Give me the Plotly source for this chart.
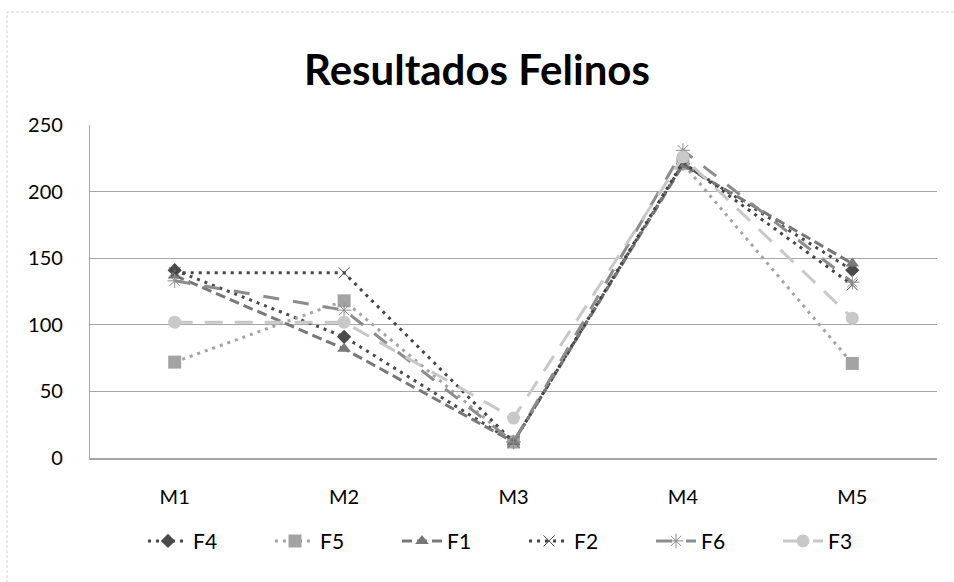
import plotly.graph_objects as go

categories = ["M1", "M2", "M3", "M4", "M5"]
series_names = ["F4", "F5", "F1", "F2", "F6", "F3"]
F4 = [141, 91, 12, 221, 141]
F5 = [72, 118, 12, 221, 71]
F1 = [137, 82, 12, 220, 146]
F2 = [139, 139, 12, 222, 130]
F6 = [133, 111, 12, 231, 132]
F3 = [102, 102, 30, 226, 105]
y_ticks = [0, 50, 100, 150, 200, 250]

values = [F4, F5, F1, F2, F6, F3]
styles = [
    dict(color="#4a4a4a", dash="3px,5px", symbol="diamond", msize=11, mline=0),
    dict(color="#a3a3a3", dash="3px,5px", symbol="square", msize=13, mline=0),
    dict(color="#787878", dash="10px,5px", symbol="triangle-up", msize=12, mline=0),
    dict(color="#454545", dash="3px,5px", symbol="x-thin-open", msize=11, mline=1),
    dict(color="#8c8c8c", dash="16px,14px", symbol="asterisk-open", msize=12, mline=1),
    dict(color="#c8c8c8", dash="18px,12px", symbol="circle", msize=13, mline=0),
]

FONT = "Lato, Open Sans, sans-serif"
fig = go.Figure()
for name, vals, st in zip(series_names, values, styles):
    marker = dict(symbol=st["symbol"], size=st["msize"], color=st["color"])
    if st["mline"]:
        marker["line"] = dict(color=st["color"], width=1)
    fig.add_trace(go.Scatter(
        x=categories, y=vals, name=name, mode="lines+markers",
        line=dict(color=st["color"], width=3, dash=st["dash"]),
        marker=marker,
    ))

fig.update_layout(
    width=954, height=582,
    margin=dict(l=90, r=17, t=125, b=124),
    paper_bgcolor="white", plot_bgcolor="white",
    font=dict(family=FONT, size=20, color="#000000"),
    title=dict(text="<b>Resultados Felinos</b>", x=0.5, xanchor="center",
               y=1 - 70 / 582, yanchor="middle",
               font=dict(family=FONT, size=42, color="#000000")),
    showlegend=True,
    legend=dict(orientation="h", x=(143 - 90) / 847, xanchor="left", y=-0.25, yanchor="middle",
                font=dict(family=FONT, size=21), itemwidth=40,
                entrywidth=72, entrywidthmode="pixels",
                bgcolor="rgba(0,0,0,0)", traceorder="normal"),
    xaxis=dict(type="category", range=[-0.5, 4.5], showgrid=False,
               showline=True, linecolor="#a6a6a6", linewidth=2, ticks="",
               ticklabelstandoff=20, zeroline=False),
    yaxis=dict(range=[0, 250], tickvals=y_ticks, showgrid=True,
               gridcolor="#a6a6a6", gridwidth=1.3, showline=True,
               linecolor="#a6a6a6", linewidth=1.3, ticks="",
               ticklabelstandoff=22, zeroline=False),
    shapes=[dict(type="rect", xref="paper", yref="paper",
                 x0=(7 - 90) / 847, x1=1.1, y0=-0.5, y1=(458 - 12) / 333,
                 line=dict(color="#d0d0d0", width=1, dash="3px,2px"),
                 fillcolor="rgba(0,0,0,0)", layer="below")],
)

fig.write_html("out.html", config={"displayModeBar": False},
               post_script="document.body.style.margin='0';")
